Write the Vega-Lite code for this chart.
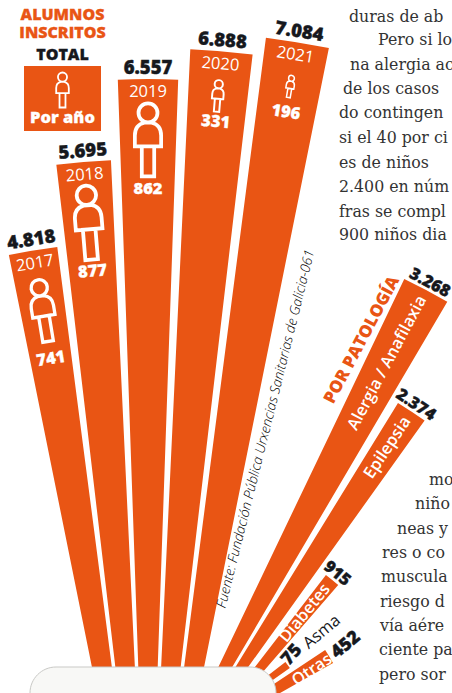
{
"$schema":"https://vega.github.io/schema/vega-lite/v6.json",
"width":452,"height":693,"padding":0,"autosize":{"type":"none"},"background":"white",
"config":{"view":{"stroke":null}},
"datasets":{
"total":[
{"anio":"2017","alumnos":4818,"etiqueta":"4.818","pacientes":741},
{"anio":"2018","alumnos":5695,"etiqueta":"5.695","pacientes":877},
{"anio":"2019","alumnos":6557,"etiqueta":"6.557","pacientes":862},
{"anio":"2020","alumnos":6888,"etiqueta":"6.888","pacientes":331},
{"anio":"2021","alumnos":7084,"etiqueta":"7.084","pacientes":196}],
"patologias":[
{"patologia":"Alergia / Anafilaxia","casos":3268,"etiqueta":"3.268","a0":25.6,"a1":30.5},
{"patologia":"Epilepsia","casos":2374,"etiqueta":"2.374","a0":31.6,"a1":35.6},
{"patologia":"Diabetes","casos":915,"etiqueta":"915","a0":37.6,"a1":40.9},
{"patologia":"Asma","casos":75,"etiqueta":"75","a0":52.25,"a1":54.75},
{"patologia":"Otras","casos":452,"etiqueta":"452","a0":56.5,"a1":60.5}]
},
"resolve":{"scale":{"x":"independent","y":"independent","radius":"independent","theta":"independent","angle":"independent","size":"independent","strokeWidth":"independent"}},
"layer":[
{"data":{"name":"total"},
 "encoding":{
  "x":{"datum":"c","type":"nominal","scale":{"type":"point","range":[148,148]},"axis":null},
  "y":{"datum":"c","type":"nominal","scale":{"type":"point","range":[945,945]},"axis":null},
  "theta":{"field":"anio","type":"ordinal","scale":{"type":"band","range":[-0.199,0.199],"paddingInner":0.15,"paddingOuter":0}},
  "radius":{"field":"alumnos","type":"quantitative","scale":{"domain":[0,7084],"range":[255,915]}}},
 "layer":[
  {"mark":{"type":"arc","color":"#E95514"},"encoding":{"radius2":{"value":200}}},
  {"mark":{"type":"text","radiusOffset":11,"font":"Open Sans","fontWeight":800,"fontSize":18.5,"color":"#16181d","stroke":"#16181d","strokeWidth":0.4},
   "encoding":{"text":{"field":"etiqueta"},"angle":{"field":"anio","type":"ordinal","scale":{"type":"point","padding":0,"range":[-9.4,9.4]}}}},
  {"mark":{"type":"text","radiusOffset":-13,"font":"Open Sans","fontWeight":400,"fontSize":16.5,"color":"white"},
   "encoding":{"text":{"field":"anio"},"angle":{"field":"anio","type":"ordinal","scale":{"type":"point","padding":0,"range":[-9.4,9.4]}}}},
  {"transform":[{"calculate":"datum.alumnos-(datum.pacientes>500?110:71)/0.0932","as":"rp"}],
   "mark":{"type":"text","font":"Open Sans","fontWeight":800,"fontSize":16.5,"color":"white","stroke":"white","strokeWidth":0.3},
   "encoding":{"text":{"field":"pacientes"},"radius":{"field":"rp","type":"quantitative"},"angle":{"field":"anio","type":"ordinal","scale":{"type":"point","padding":0,"range":[-9.4,9.4]}}}}
 ]},
{"data":{"name":"total"},
 "transform":[
  {"calculate":"(toNumber(datum.anio)-2019)*4.7","as":"giro"},
  {"calculate":"255+0.0932*datum.alumnos-(datum.pacientes>500?61:45)","as":"r"},
  {"calculate":"148+datum.r*sin(datum.giro*PI/180)","as":"px"},
  {"calculate":"945-datum.r*cos(datum.giro*PI/180)","as":"py"}],
 "mark":{"type":"point","filled":false,"opacity":1,"stroke":"white","shape":"M0 -1A.26 .26 0 1 1 0 -.48A.26 .26 0 1 1 0 -1ZM-.1 -.47C-.28 -.43 -.36 -.3 -.36 -.12L-.36 .18L.36 .18L.36 -.12C.36 -.3 .28 -.43 .1 -.47ZM-.17 .18L-.17 1L.17 1L.17 .18Z"},
 "encoding":{
  "x":{"field":"px","type":"quantitative","scale":{"domain":[0,452],"range":[0,452]},"axis":null},
  "y":{"field":"py","type":"quantitative","scale":{"domain":[0,693],"range":[0,693]},"axis":null},
  "angle":{"field":"giro","type":"quantitative","scale":{"domain":[0,360],"range":[0,360]}},
  "size":{"field":"pacientes","type":"quantitative","legend":null,"scale":{"domain":[196,331,741,877],"range":[500,1000,3900,5500]}},
  "strokeWidth":{"field":"pacientes","type":"quantitative","legend":null,"scale":{"domain":[196,877],"range":[1.5,3.8]}}}},
{"data":{"name":"patologias"},
 "transform":[{"filter":"datum.casos>=900"},{"calculate":"(datum.a0+datum.a1)/2","as":"am"},{"calculate":"datum.am-90","as":"am90"}],
 "encoding":{
  "x":{"datum":"c","type":"nominal","scale":{"type":"point","range":[158,158]},"axis":null},
  "y":{"datum":"c","type":"nominal","scale":{"type":"point","range":[793,793]},"axis":null},
  "theta":{"field":"am","type":"quantitative","scale":{"domain":[0,360],"range":[0,6.28319]}},
  "radius":{"field":"casos","type":"quantitative","scale":{"domain":[0,3268],"range":[160.6,570]}}},
 "layer":[
  {"mark":{"type":"arc","color":"#E95514"},"encoding":{"theta":{"field":"a0","type":"quantitative","scale":{"domain":[0,360],"range":[0,6.28319]}},"theta2":{"field":"a1"},"radius2":{"value":110}}},
  {"mark":{"type":"text","radiusOffset":8,"font":"Open Sans","fontWeight":800,"fontSize":16.5,"color":"#16181d","stroke":"#16181d","strokeWidth":0.4},
   "encoding":{"text":{"field":"etiqueta"},"angle":{"field":"am","type":"quantitative","scale":{"domain":[0,360],"range":[0,360]}}}},
  {"mark":{"type":"text","radiusOffset":-8,"align":"right","font":"Open Sans","fontWeight":600,"fontSize":16.5,"color":"white"},
   "encoding":{"text":{"field":"patologia"},"angle":{"field":"am90","type":"quantitative","scale":{"domain":[0,360],"range":[0,360]}}}}
 ]},
{"data":{"name":"patologias"},"transform":[{"filter":"datum.patologia==='Asma'"}],
 "mark":{"type":"arc","color":"#E95514"},
 "encoding":{
  "x":{"datum":"c","type":"nominal","scale":{"type":"point","range":[151,151]},"axis":null},
  "y":{"datum":"c","type":"nominal","scale":{"type":"point","range":[766,766]},"axis":null},
  "theta":{"field":"a0","type":"quantitative","scale":{"domain":[0,360],"range":[0,6.28319]}},"theta2":{"field":"a1"},
  "radius":{"field":"casos","type":"quantitative","scale":{"domain":[0,3268],"range":[160.6,570]}},"radius2":{"value":110}}},
{"data":{"name":"patologias"},"transform":[{"filter":"datum.patologia==='Otras'"}],
 "mark":{"type":"arc","color":"#E95514"},
 "encoding":{
  "x":{"datum":"c","type":"nominal","scale":{"type":"point","range":[144,144]},"axis":null},
  "y":{"datum":"c","type":"nominal","scale":{"type":"point","range":[770,770]},"axis":null},
  "theta":{"field":"a0","type":"quantitative","scale":{"domain":[0,360],"range":[0,6.28319]}},"theta2":{"field":"a1"},
  "radius":{"field":"casos","type":"quantitative","scale":{"domain":[0,3268],"range":[160.6,570]}},"radius2":{"value":110}}},
{"encoding":{
  "x":{"field":"x","type":"quantitative","scale":{"domain":[0,452],"range":[0,452]},"axis":null},
  "y":{"field":"y","type":"quantitative","scale":{"domain":[0,693],"range":[0,693]},"axis":null}},
 "layer":[
  {"data":{"values":[{"x":30,"x2":276,"y":667,"y2":730}]},
   "mark":{"type":"rect","fill":"#f8f8f6","stroke":"#c9c9c6","strokeWidth":1,"cornerRadius":26},
   "encoding":{"x2":{"field":"x2"},"y2":{"field":"y2"}}},
  {"data":{"values":[{"x":24,"x2":101,"y":66,"y2":131}]},
   "mark":{"type":"rect","fill":"#E95514"},"encoding":{"x2":{"field":"x2"},"y2":{"field":"y2"}}},
  {"data":{"values":[{"x":62.5,"y":90}]},
   "mark":{"type":"point","filled":false,"opacity":1,"stroke":"white","strokeWidth":1.8,"size":1225,"shape":"M0 -1A.26 .26 0 1 1 0 -.48A.26 .26 0 1 1 0 -1ZM-.1 -.47C-.28 -.43 -.36 -.3 -.36 -.12L-.36 .18L.36 .18L.36 -.12C.36 -.3 .28 -.43 .1 -.47ZM-.17 .18L-.17 1L.17 1L.17 .18Z"}},
  {"data":{"values":[{"t":"Por año","x":62.5,"y":118}]},
   "mark":{"type":"text","font":"Open Sans","fontWeight":800,"fontSize":16.5,"color":"white","stroke":"white","strokeWidth":0.3},"encoding":{"text":{"field":"t"}}},
  {"data":{"values":[{"t":"ALUMNOS","x":62.5,"y":15},{"t":"INSCRITOS","x":62.5,"y":33}]},
   "mark":{"type":"text","font":"Open Sans","fontWeight":800,"fontSize":16,"color":"#E95514","stroke":"#E95514","strokeWidth":0.3},"encoding":{"text":{"field":"t"}}},
  {"data":{"values":[{"t":"TOTAL","x":62.5,"y":55}]},
   "mark":{"type":"text","font":"Open Sans","fontWeight":800,"fontSize":16,"color":"#16181d","stroke":"#16181d","strokeWidth":0.3},"encoding":{"text":{"field":"t"}}},
  {"data":{"values":[{"t":"POR PATOLOGÍA","x":362,"y":340}]},
   "mark":{"type":"text","font":"Open Sans","fontWeight":800,"fontSize":17,"color":"#E95514","angle":-62},"encoding":{"text":{"field":"t"}}},
  {"data":{"values":[{"t":"Fuente: Fundación Pública Urxencias Sanitarias de Galicia-061","x":266,"y":429}]},
   "mark":{"type":"text","font":"Open Sans","fontStyle":"italic","fontWeight":300,"fontSize":13.7,"color":"#000","angle":-76},"encoding":{"text":{"field":"t"}}},
  {"data":{"values":[{"t":"75","x":292,"y":655},{"t":"452","x":346,"y":645}]},
   "mark":{"type":"text","font":"Open Sans","fontWeight":800,"fontSize":18,"color":"#16181d","stroke":"#16181d","strokeWidth":0.4},
   "encoding":{"text":{"field":"t"},"angle":{"field":"t","type":"nominal","scale":{"domain":["75","452"],"range":[-48,-40]}}}},
  {"data":{"values":[{"t":"Asma","x":322,"y":632}]},
   "mark":{"type":"text","font":"Open Sans","fontWeight":500,"fontSize":16.5,"color":"#16181d","angle":-40},"encoding":{"text":{"field":"t"}}},
  {"data":{"values":[{"t":"Otras","x":312,"y":670}]},
   "mark":{"type":"text","font":"Open Sans","fontWeight":600,"fontSize":16.5,"color":"white","angle":-34},"encoding":{"text":{"field":"t"}}},
  {"data":{"values":[
    {"t":"duras de ab","x":349,"y":17},{"t":"Pero si lo","x":378,"y":40},{"t":"na alergia ac","x":350,"y":65},{"t":"de los casos","x":343,"y":89},{"t":"do contingen","x":339,"y":113},{"t":"si el 40 por ci","x":339,"y":138},{"t":"es de niños","x":339,"y":163},{"t":"2.400 en núm","x":339,"y":187},{"t":"fras se compl","x":339,"y":212},{"t":"900 niños dia","x":339,"y":235},
    {"t":"mo","x":429,"y":480},{"t":"niño","x":415,"y":504},{"t":"neas y","x":397,"y":529},{"t":"res o co","x":382,"y":553},{"t":"muscula","x":381,"y":577},{"t":"riesgo d","x":380,"y":602},{"t":"vía aére","x":380,"y":626},{"t":"ciente pa","x":379,"y":650},{"t":"pero sor","x":379,"y":675}]},
   "mark":{"type":"text","align":"left","font":"DejaVu Serif","fontSize":15.8,"color":"#333"},"encoding":{"text":{"field":"t"}}}
 ]}
]}
